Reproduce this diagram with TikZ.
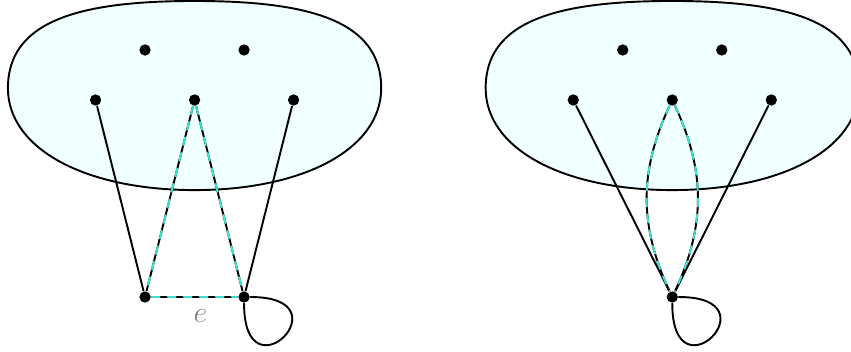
\documentclass[tikz,border=0pt]{standalone}
\usetikzlibrary{positioning}
\definecolor{lightcyan}{RGB}{240,255,255}
\definecolor{turq}{RGB}{64,224,208}
\tikzset{
  dot/.style={circle, fill=black, inner sep=0pt, minimum size=6.5pt},
  blob/.style={draw=black, fill=lightcyan},
  hl/.style={draw=black, postaction={draw=turq, dash pattern=on 4.6pt off 4.6pt}},
}
\begin{document}
\begin{tikzpicture}[line width=1.1pt, line join=round, line cap=round]
	\useasboundingbox (0,0) rectangle (17.19,7.11);
	% left graph
	\begin{scope}[xshift=3.93cm]
		\draw[blob] (0,7.09) .. controls (-2.3,7.09) and (-3.77,6.7) .. (-3.77,5.33) .. controls (-3.77,4.1) and (-2.2,3.27) .. (0,3.27) .. controls (2.2,3.27) and (3.77,4.1) .. (3.77,5.33) .. controls (3.77,6.7) and (2.3,7.09) .. (0,7.09) -- cycle;
		\node[dot] (lt1) at (-1,6.1) {};
		\node[dot] (lt2) at (1,6.1) {};
		\node[dot] (lm1) at (-2,5.09) {};
		\node[dot] (lm2) at (0,5.09) {};
		\node[dot] (lm3) at (2,5.09) {};
		\node[dot] (lb1) at (-1,1.11) {};
		\node[dot] (lb2) at (1,1.11) {};
	\end{scope}
	\draw (lm1)--(lb1) (lm3)--(lb2);
	\draw[hl] (lm2)--(lb1);
	\draw[hl] (lm2)--(lb2);
	\draw[hl] (lb1)-- node[pos=.57, below=3.5pt, text=gray] {\LARGE $e$} (lb2);
	\draw (lb2) .. controls +(2.1,0) and +(0,-2.1) .. (lb2);
	% right graph
	\begin{scope}[xshift=13.58cm]
		\draw[blob] (0,7.09) .. controls (-2.3,7.09) and (-3.77,6.7) .. (-3.77,5.33) .. controls (-3.77,4.1) and (-2.2,3.27) .. (0,3.27) .. controls (2.2,3.27) and (3.77,4.1) .. (3.77,5.33) .. controls (3.77,6.7) and (2.3,7.09) .. (0,7.09) -- cycle;
		\node[dot] (rt1) at (-1,6.1) {};
		\node[dot] (rt2) at (1,6.1) {};
		\node[dot] (rm1) at (-2,5.09) {};
		\node[dot] (rm2) at (0,5.09) {};
		\node[dot] (rm3) at (2,5.09) {};
		\node[dot] (rb) at (0,1.11) {};
	\end{scope}
	\draw (rm1)--(rb) (rm3)--(rb);
	\draw[hl] (rm2) to[bend right=25] (rb);
	\draw[hl] (rm2) to[bend left=25] (rb);
	\draw (rb) .. controls +(2.1,0) and +(0,-2.1) .. (rb);
\end{tikzpicture}
\end{document}
